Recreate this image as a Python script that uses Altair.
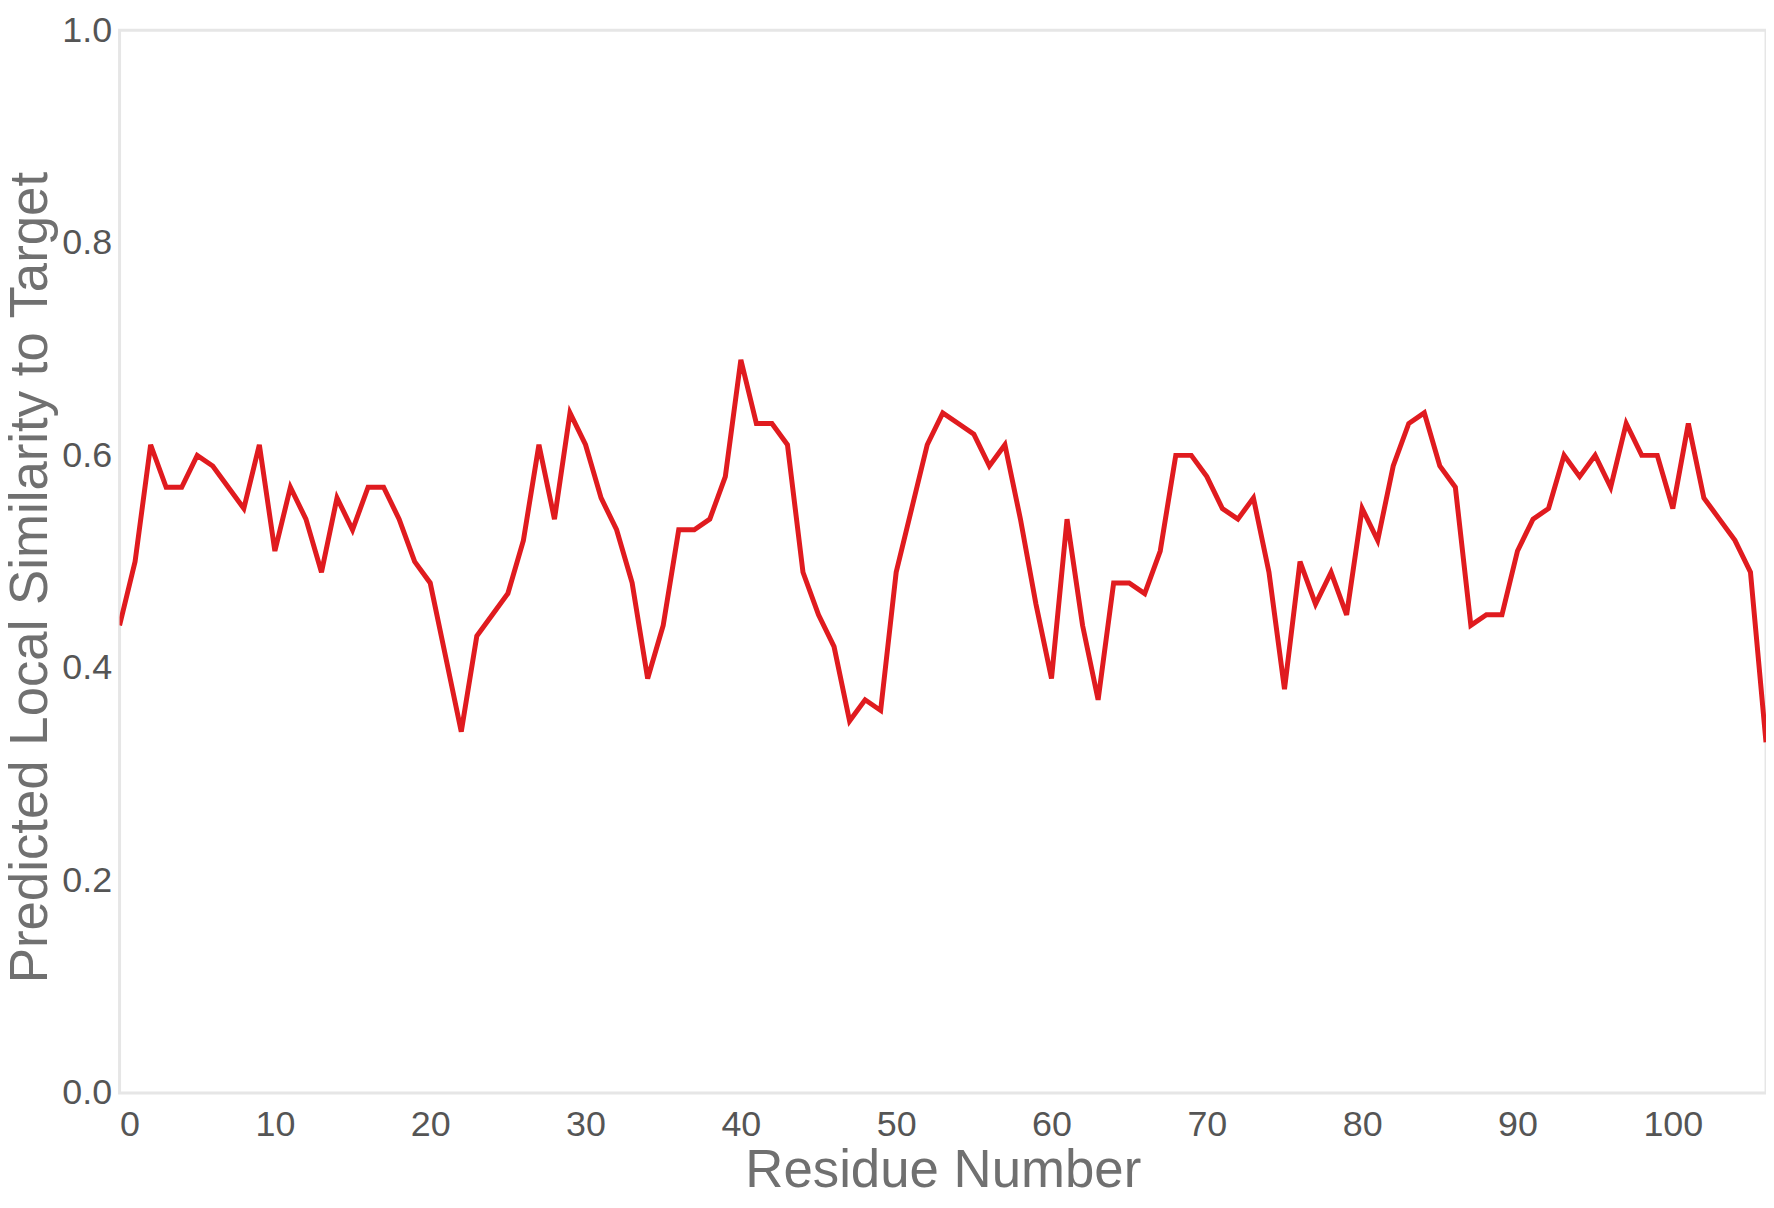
import altair as alt
import pandas as pd

residues = list(range(0, 107))
similarity = [
    0.44, 0.50, 0.61, 0.57, 0.57, 0.60, 0.59, 0.57, 0.55, 0.61,
    0.51, 0.57, 0.54, 0.49, 0.56, 0.53, 0.57, 0.57, 0.54, 0.50,
    0.48, 0.41, 0.34, 0.43, 0.45, 0.47, 0.52, 0.61, 0.54, 0.64,
    0.61, 0.56, 0.53, 0.48, 0.39, 0.44, 0.53, 0.53, 0.54, 0.58,
    0.69, 0.63, 0.63, 0.61, 0.49, 0.45, 0.42, 0.35, 0.37, 0.36,
    0.49, 0.55, 0.61, 0.64, 0.63, 0.62, 0.59, 0.61, 0.54, 0.46,
    0.39, 0.54, 0.44, 0.37, 0.48, 0.48, 0.47, 0.51, 0.60, 0.60,
    0.58, 0.55, 0.54, 0.56, 0.49, 0.38, 0.50, 0.46, 0.49, 0.45,
    0.55, 0.52, 0.59, 0.63, 0.64, 0.59, 0.57, 0.44, 0.45, 0.45,
    0.51, 0.54, 0.55, 0.60, 0.58, 0.60, 0.57, 0.63, 0.60, 0.60,
    0.55, 0.63, 0.56, 0.54, 0.52, 0.49, 0.33,
]
x_ticks = [0, 10, 20, 30, 40, 50, 60, 70, 80, 90, 100]
y_ticks = [0.0, 0.2, 0.4, 0.6, 0.8, 1.0]

df = pd.DataFrame({"residue": residues, "similarity": similarity})

chart = (
    alt.Chart(df)
    .mark_line(color="#e01b1f", strokeWidth=5, clip=True)
    .encode(
        x=alt.X(
            "residue:Q",
            scale=alt.Scale(domain=[0, 106], nice=False, zero=False),
            axis=alt.Axis(
                values=x_ticks,
                title="Residue Number",
                grid=False,
                domain=False,
                ticks=False,
                labelFontSize=36,
                labelColor="#555555",
                labelPadding=15,
                labelFont="Liberation Sans",
                titleFont="Liberation Sans",
                titleFontSize=53,
                titleFontWeight="normal",
                titleColor="#707070",
                titlePadding=2,
            ),
        ),
        y=alt.Y(
            "similarity:Q",
            scale=alt.Scale(domain=[0, 1], nice=False),
            axis=alt.Axis(
                values=y_ticks,
                format=".1f",
                title="Predicted Local Similarity to Target",
                grid=False,
                domain=False,
                ticks=False,
                labelFontSize=36,
                labelColor="#555555",
                labelPadding=8,
                labelFont="Liberation Sans",
                titleFont="Liberation Sans",
                titleFontSize=53,
                titleFontWeight="normal",
                titleColor="#707070",
                titlePadding=4,
                titleY=549,
            ),
        ),
    )
    .properties(
        width=1653,
        height=1067,
        autosize=alt.AutoSizeParams(type="none"),
        padding={"left": 112, "top": 20, "right": 0, "bottom": 96},
    )
    .configure_view(stroke="#e6e6e6", strokeWidth=3)
)

chart.save("out.html", embed_options={"renderer": "svg", "actions": False})
